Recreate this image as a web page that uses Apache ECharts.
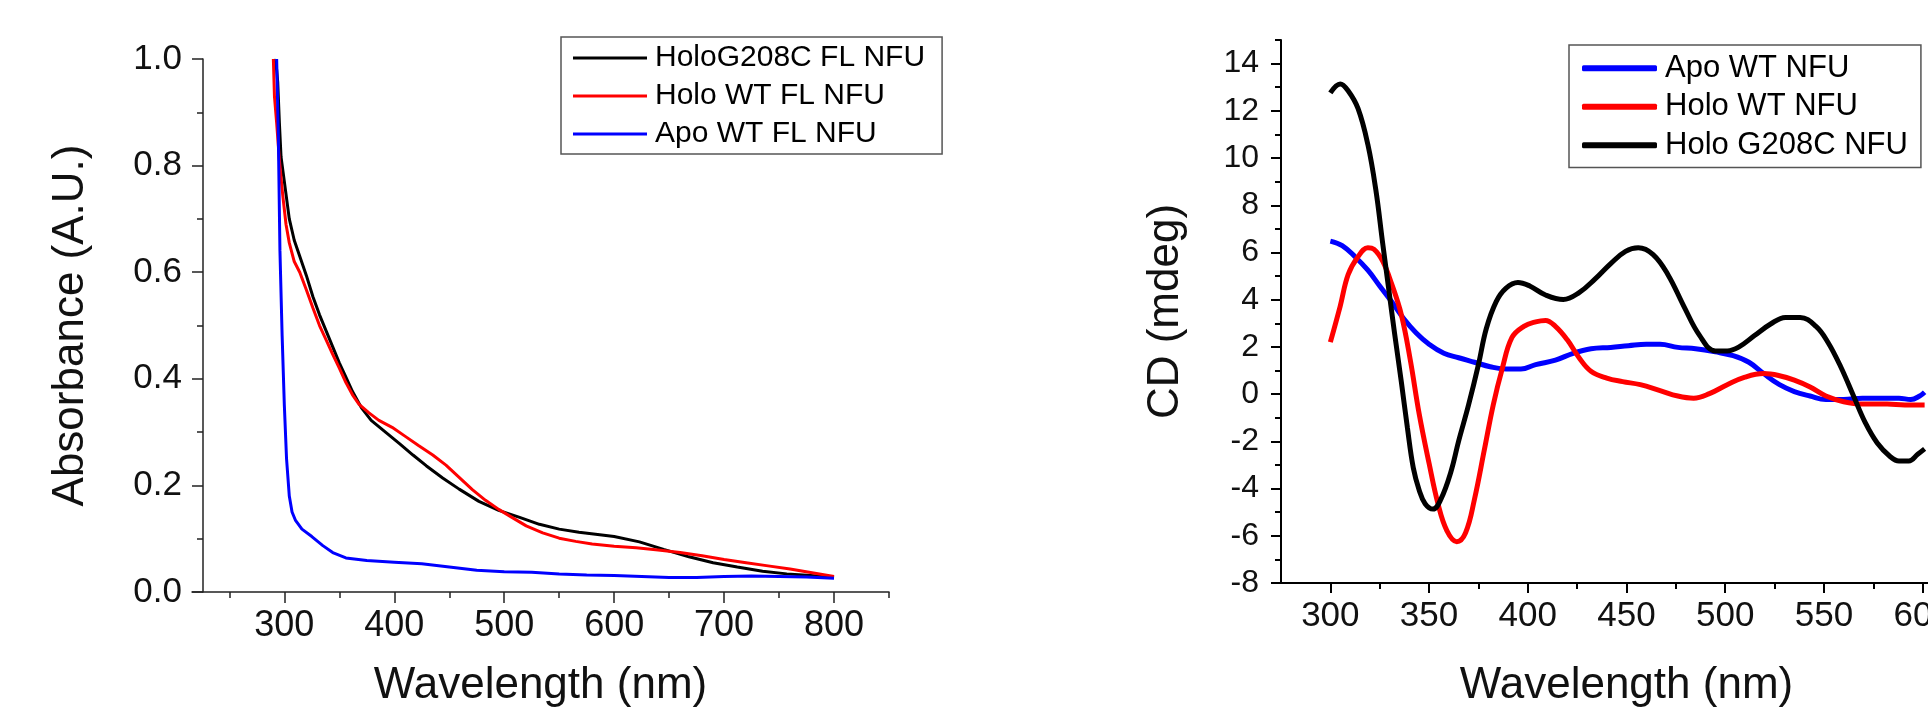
<!DOCTYPE html>
<html>
<head>
<meta charset="utf-8">
<script src="https://cdn.jsdelivr.net/npm/echarts@6/dist/echarts.min.js"></script>
<style>
  html, body { margin: 0; padding: 0; background: #fff; overflow: hidden; }
  /* the right panel runs past the page edge, as in the cropped original */
  #chart { width: 2000px; height: 713px; }
</style>
</head>
<body>
<div id="chart"></div>
<script>
var FONT = '"Liberation Sans", Arial, sans-serif';

// ---- absorbance panel (left) ----
var NAME_ABS_G208C = 'HoloG208C FL NFU';
var NAME_ABS_HOLO = 'Holo WT FL NFU';
var NAME_ABS_APO = 'Apo WT FL NFU';

var absG208C_nm = [290.5, 293, 294, 295.5, 297, 300, 304.5, 309, 314, 320, 326, 332, 338, 344, 350, 356, 362, 370, 379, 392, 405, 417, 429, 444, 459, 477, 495, 514, 532, 550, 568, 585, 600, 623, 645, 668, 690, 712, 735, 757, 779, 800];
var absG208C_val = [1.0, 0.98, 0.956, 0.88, 0.816, 0.77, 0.70, 0.66, 0.63, 0.594, 0.554, 0.52, 0.49, 0.46, 0.43, 0.403, 0.376, 0.346, 0.322, 0.30, 0.278, 0.257, 0.237, 0.214, 0.193, 0.17, 0.153, 0.14, 0.127, 0.118, 0.112, 0.108, 0.104, 0.094, 0.08, 0.066, 0.055, 0.047, 0.039, 0.034, 0.031, 0.027];

var absHolo_nm = [290, 291, 293, 295.5, 298.5, 301.5, 304.5, 309, 314, 320, 326, 332, 338, 344, 350, 356, 362, 368, 377, 386, 398, 410, 422, 435, 447, 459, 471, 483, 495, 507, 520, 535, 550, 565, 580, 600, 620, 640, 660, 680, 700, 720, 740, 760, 780, 800];
var absHolo_val = [1.0, 0.93, 0.88, 0.81, 0.745, 0.69, 0.655, 0.62, 0.60, 0.567, 0.533, 0.50, 0.473, 0.446, 0.42, 0.393, 0.37, 0.352, 0.336, 0.322, 0.309, 0.292, 0.275, 0.257, 0.238, 0.215, 0.192, 0.172, 0.155, 0.14, 0.124, 0.111, 0.101, 0.095, 0.09, 0.086, 0.083, 0.079, 0.074, 0.068, 0.061, 0.055, 0.049, 0.043, 0.036, 0.029];

var absApo_nm = [293, 294.5, 296, 298, 300, 302, 304.5, 307, 310, 316, 325, 335, 344, 356, 375, 400, 425, 450, 475, 500, 525, 550, 575, 600, 625, 650, 675, 700, 725, 750, 775, 800];
var absApo_val = [1.0, 0.86, 0.64, 0.48, 0.35, 0.25, 0.18, 0.15, 0.135, 0.118, 0.104, 0.087, 0.074, 0.064, 0.059, 0.056, 0.053, 0.047, 0.041, 0.038, 0.037, 0.034, 0.032, 0.031, 0.029, 0.027, 0.027, 0.029, 0.03, 0.029, 0.028, 0.026];

var absMajorTicks = [300, 400, 500, 600, 700, 800];
var absMinorTicks = [250, 350, 450, 550, 650, 750, 850];

// ---- CD panel (right) ----
var NAME_CD_APO = 'Apo WT NFU';
var NAME_CD_HOLO = 'Holo WT NFU';
var NAME_CD_G208C = 'Holo G208C NFU';

var cdG208C_nm = [300, 305, 309, 314, 319, 323, 326.5, 329.5, 332.5, 336, 339, 342, 345, 348, 352, 356, 361, 365, 370, 375, 379, 384, 389, 395, 401, 409, 418, 426, 434, 442, 449.5, 456, 463.5, 471, 479, 487, 495, 501, 507, 515, 523, 530.5, 538, 546, 552, 558.5, 565, 571, 577, 583.5, 588, 593, 597.5, 601];
var cdG208C_val = [12.76, 13.14, 12.85, 12.1, 10.57, 8.67, 6.39, 4.49, 2.59, 0.49, -1.41, -3.12, -4.07, -4.64, -4.87, -4.45, -3.31, -1.98, -0.46, 1.25, 2.78, 3.92, 4.49, 4.73, 4.58, 4.2, 4.01, 4.3, 4.87, 5.53, 6.05, 6.2, 5.91, 5.06, 3.73, 2.49, 1.83, 1.83, 2.0, 2.49, 2.97, 3.25, 3.25, 2.87, 2.2, 1.16, -0.08, -1.22, -2.07, -2.64, -2.83, -2.83, -2.55, -2.32];

var cdHolo_nm = [300, 305, 309, 314, 319, 322, 326.5, 331, 336, 340.5, 345, 350, 354.5, 359, 364, 368.5, 373, 378, 382.5, 387, 392, 398, 404, 409, 414, 420, 426, 432, 440, 448, 457, 467, 476, 484, 492, 501, 510, 519.5, 527.5, 535, 543, 551, 560, 569.5, 582, 591, 601];
var cdHolo_val = [2.2, 3.73, 5.06, 5.82, 6.2, 6.14, 5.63, 4.68, 3.35, 1.44, -0.84, -2.93, -4.64, -5.78, -6.25, -5.87, -4.45, -2.36, -0.46, 1.06, 2.4, 2.87, 3.06, 3.12, 2.87, 2.3, 1.54, 0.97, 0.68, 0.53, 0.4, 0.15, -0.08, -0.17, 0.02, 0.4, 0.72, 0.87, 0.78, 0.59, 0.3, -0.08, -0.32, -0.42, -0.42, -0.46, -0.46];

var cdApo_nm = [300, 306, 312.5, 319, 325, 331, 337.5, 343.5, 350, 357.5, 365, 373, 381, 389, 396.5, 404, 414, 423, 432, 442, 451, 460, 467, 476, 485, 495, 504, 512, 519.5, 527.5, 535, 543, 551, 560, 569.5, 579, 588, 594, 598.5, 601];
var cdApo_val = [6.48, 6.29, 5.82, 5.25, 4.58, 3.92, 3.16, 2.59, 2.11, 1.73, 1.54, 1.35, 1.16, 1.06, 1.06, 1.25, 1.44, 1.73, 1.92, 1.98, 2.05, 2.11, 2.11, 1.98, 1.92, 1.79, 1.63, 1.35, 0.87, 0.4, 0.11, -0.08, -0.23, -0.23, -0.17, -0.17, -0.17, -0.23, -0.08, 0.08];

var cdXMajorTicks = [300, 350, 400, 450, 500, 550, 600];
var cdXMinorTicks = [325, 375, 425, 475, 525, 575, 625];
var cdYMajorTicks = [-8, -6, -4, -2, 0, 2, 4, 6, 8, 10, 12, 14];
var cdYMinorTicks = [-7, -5, -3, -1, 1, 3, 5, 7, 9, 11, 13, 15];

function pairs(xs, ys) {
    var out = [];
    for (var i = 0; i < xs.length; i++) out.push([xs[i], ys[i]]);
    return out;
}

var myChart = echarts.init(document.getElementById('chart'), null, {renderer: 'canvas'});

var leftAxisLine = {show: true, onZero: false, lineStyle: {color: '#222', width: 1.5}};
var rightAxisLine = {show: true, onZero: false, lineStyle: {color: '#000', width: 2}};
var noLine = {show: false, onZero: false};

var option = {
    animation: false,
    backgroundColor: '#fff',
    textStyle: {fontFamily: FONT},
    grid: [
        {left: 192, top: 59, width: 697, height: 534},
        {left: 1281, top: 40, width: 691, height: 550}
    ],
    legend: [
        {
            left: 561, top: 37,
            orient: 'vertical',
            data: [NAME_ABS_G208C, NAME_ABS_HOLO, NAME_ABS_APO],
            icon: 'rect',
            itemWidth: 74, itemHeight: 3,
            itemGap: 0,
            padding: [2, 17, 1, 12],
            borderColor: '#555', borderWidth: 1.5,
            textStyle: {fontFamily: FONT, fontSize: 30, color: '#000', lineHeight: 38, padding: [0, 0, 0, 3]}
        },
        {
            left: 1569, top: 45,
            orient: 'vertical',
            data: [NAME_CD_APO, NAME_CD_HOLO, NAME_CD_G208C],
            icon: 'roundRect',
            itemWidth: 75, itemHeight: 6,
            itemGap: 0,
            padding: [4, 13, 3, 13],
            borderColor: '#555', borderWidth: 1.5,
            textStyle: {fontFamily: FONT, fontSize: 31, color: '#000', lineHeight: 38.5, padding: [0, 0, 0, 3]}
        }
    ],
    xAxis: [
        {
            type: 'value', gridIndex: 0, position: 'bottom',
            min: 216, max: 850,
            name: 'Wavelength (nm)', nameLocation: 'middle', nameGap: 72,
            nameTextStyle: {fontFamily: FONT, fontSize: 44, color: '#111'},
            axisLine: leftAxisLine,
            axisTick: {show: true, length: 11, customValues: absMajorTicks, lineStyle: {color: '#222', width: 1.5}},
            axisLabel: {customValues: absMajorTicks, margin: 16, fontFamily: FONT, fontSize: 36, color: '#111'},
            splitLine: {show: false}
        },
        {
            type: 'value', gridIndex: 0, position: 'bottom',
            min: 216, max: 850,
            axisLine: noLine,
            axisTick: {show: true, length: 6, customValues: absMinorTicks, lineStyle: {color: '#222', width: 1.5}},
            axisLabel: {show: false},
            splitLine: {show: false}
        },
        {
            type: 'value', gridIndex: 1, position: 'bottom',
            min: 275, max: 625,
            name: 'Wavelength (nm)', nameLocation: 'middle', nameGap: 81,
            nameTextStyle: {fontFamily: FONT, fontSize: 44, color: '#111'},
            axisLine: rightAxisLine,
            axisTick: {show: true, length: 10, customValues: cdXMajorTicks, lineStyle: {color: '#000', width: 2}},
            axisLabel: {customValues: cdXMajorTicks, margin: 16, fontFamily: FONT, fontSize: 35, color: '#111'},
            splitLine: {show: false}
        },
        {
            type: 'value', gridIndex: 1, position: 'bottom',
            min: 275, max: 625,
            axisLine: noLine,
            axisTick: {show: true, length: 6, customValues: cdXMinorTicks, lineStyle: {color: '#000', width: 2}},
            axisLabel: {show: false},
            splitLine: {show: false}
        }
    ],
    yAxis: [
        {
            type: 'value', gridIndex: 0, position: 'left', offset: -11,
            min: 0, max: 1, interval: 0.2,
            name: 'Absorbance (A.U.)', nameLocation: 'middle', nameGap: 110,
            nameTextStyle: {fontFamily: FONT, fontSize: 44, color: '#111'},
            axisLine: leftAxisLine,
            axisTick: {show: true, length: 11, lineStyle: {color: '#222', width: 1.5}},
            minorTick: {show: true, splitNumber: 2, length: 6, lineStyle: {color: '#222', width: 1.5}},
            axisLabel: {margin: 21, fontFamily: FONT, fontSize: 35, color: '#111',
                formatter: function (v) { return v.toFixed(1); }},
            splitLine: {show: false}
        },
        {
            type: 'value', gridIndex: 1, position: 'left',
            min: -8, max: 15,
            name: 'CD (mdeg)', nameLocation: 'middle', nameGap: 93,
            nameTextStyle: {fontFamily: FONT, fontSize: 44, color: '#111'},
            axisLine: rightAxisLine,
            axisTick: {show: true, length: 10, customValues: cdYMajorTicks, lineStyle: {color: '#000', width: 2}},
            axisLabel: {customValues: cdYMajorTicks, margin: 22, fontFamily: FONT, fontSize: 32, color: '#111'},
            splitLine: {show: false}
        },
        {
            type: 'value', gridIndex: 1, position: 'left', offset: 0,
            min: -8, max: 15,
            axisLine: noLine,
            axisTick: {show: true, length: 6, customValues: cdYMinorTicks, lineStyle: {color: '#000', width: 2}},
            axisLabel: {show: false},
            splitLine: {show: false}
        }
    ],
    series: [
        {name: NAME_ABS_G208C, type: 'line', xAxisIndex: 0, yAxisIndex: 0, showSymbol: false,
            itemStyle: {color: '#000'}, lineStyle: {color: '#000', width: 3}, data: pairs(absG208C_nm, absG208C_val)},
        {name: NAME_ABS_HOLO, type: 'line', xAxisIndex: 0, yAxisIndex: 0, showSymbol: false,
            itemStyle: {color: '#ff0000'}, lineStyle: {color: '#ff0000', width: 3}, data: pairs(absHolo_nm, absHolo_val)},
        {name: NAME_ABS_APO, type: 'line', xAxisIndex: 0, yAxisIndex: 0, showSymbol: false,
            itemStyle: {color: '#0000ff'}, lineStyle: {color: '#0000ff', width: 3}, data: pairs(absApo_nm, absApo_val)},

        {name: NAME_CD_APO, type: 'line', xAxisIndex: 2, yAxisIndex: 1, showSymbol: false, smooth: 0.4,
            itemStyle: {color: '#0000ff'}, lineStyle: {color: '#0000ff', width: 5}, data: pairs(cdApo_nm, cdApo_val)},
        {name: NAME_CD_HOLO, type: 'line', xAxisIndex: 2, yAxisIndex: 1, showSymbol: false, smooth: 0.4,
            itemStyle: {color: '#ff0000'}, lineStyle: {color: '#ff0000', width: 5}, data: pairs(cdHolo_nm, cdHolo_val)},
        {name: NAME_CD_G208C, type: 'line', xAxisIndex: 2, yAxisIndex: 1, showSymbol: false, smooth: 0.4,
            itemStyle: {color: '#000'}, lineStyle: {color: '#000', width: 5}, data: pairs(cdG208C_nm, cdG208C_val)}
    ]
};
myChart.setOption(option);
</script>
</body>
</html>
